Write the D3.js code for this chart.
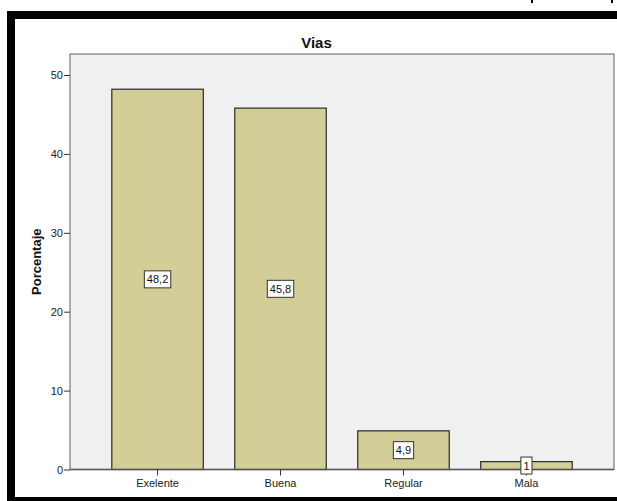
<!DOCTYPE html>
<html>
<head>
<meta charset="utf-8">
<script src="https://cdn.jsdelivr.net/npm/d3@7"></script>
<style>
  html, body { margin: 0; padding: 0; background: #fff; }
  svg { display: block; font-family: "Liberation Sans", Arial, sans-serif; }
</style>
</head>
<body>
<svg id="chart" width="617" height="501"></svg>
<script>
const title = "Vias";
const yLabel = "Porcentaje";
const categories = ["Exelente", "Buena", "Regular", "Mala"];
const values = [48.2, 45.8, 4.9, 1];
const valueLabels = ["48,2", "45,8", "4,9", "1"];
const yTicks = [0, 10, 20, 30, 40, 50];

const svg = d3.select("#chart");

// outer black frame (cropped)
svg.append("rect")
  .attr("x", 11).attr("y", 15).attr("width", 700).attr("height", 486)
  .attr("fill", "#fff").attr("stroke", "#000").attr("stroke-width", 8);

// small fragments above frame
svg.append("rect").attr("x", 531).attr("y", 0).attr("width", 2).attr("height", 3).attr("fill", "#000");
svg.append("rect").attr("x", 611).attr("y", 0).attr("width", 2).attr("height", 3).attr("fill", "#000");

const plot = { left: 70, right: 614, top: 54, bottom: 469.5 };

const x = d3.scaleBand()
  .domain(categories)
  .range([plot.left, plot.right])
  .paddingInner(0.256)
  .paddingOuter(0.34);

const y = d3.scaleLinear()
  .domain([0, 50])
  .range([plot.bottom, 75]);

// plot background
svg.append("rect")
  .attr("x", plot.left).attr("y", plot.top)
  .attr("width", plot.right - plot.left).attr("height", plot.bottom - plot.top)
  .attr("fill", "#f0f0f0").attr("stroke", "#7a7a7a").attr("stroke-width", 1.2);

// bars
svg.append("g").selectAll("rect")
  .data(values)
  .join("rect")
  .attr("x", (d, i) => x(categories[i]))
  .attr("y", d => y(d))
  .attr("width", x.bandwidth())
  .attr("height", d => y(0) - y(d))
  .attr("fill", "#d3ce97")
  .attr("stroke", "#2a2a2a")
  .attr("stroke-width", 1.2);

// baseline
svg.append("line")
  .attr("x1", plot.left).attr("x2", plot.right)
  .attr("y1", y(0)).attr("y2", y(0))
  .attr("stroke", "#555").attr("stroke-width", 1.4);

// y axis
const yAxis = svg.append("g")
  .attr("transform", `translate(${plot.left},0)`)
  .call(d3.axisLeft(y).tickValues(yTicks).tickSize(6).tickPadding(1).tickFormat(d3.format("d")));
yAxis.select(".domain").remove();
yAxis.selectAll(".tick line").attr("stroke", "#333");
yAxis.selectAll(".tick text")
  .attr("fill", "#222").style("font-size", "11px")
  .style("font-family", "'Liberation Sans', Arial, sans-serif");

// x axis
const xAxis = svg.append("g")
  .attr("transform", `translate(0,${y(0)})`)
  .call(d3.axisBottom(x).tickSize(6).tickPadding(4));
xAxis.select(".domain").remove();
xAxis.selectAll(".tick line").attr("stroke", "#333");
xAxis.selectAll(".tick text")
  .attr("fill", "#222").style("font-size", "11px")
  .style("font-family", "'Liberation Sans', Arial, sans-serif");

// value labels
const lab = svg.append("g").selectAll("g")
  .data(values)
  .join("g")
  .attr("transform", (d, i) => `translate(${x(categories[i]) + x.bandwidth() / 2},${(y(0) + y(d)) / 2})`);
lab.append("rect").attr("class", "box");
lab.append("text")
  .text((d, i) => valueLabels[i])
  .attr("text-anchor", "middle")
  .attr("dy", "0.36em")
  .attr("fill", "#111")
  .style("font-size", "11px");
lab.each(function() {
  const g = d3.select(this);
  const bb = g.select("text").node().getBBox();
  g.select("rect")
    .attr("x", bb.x - 2.5).attr("y", -8.5)
    .attr("width", bb.width + 5).attr("height", 17)
    .attr("fill", "#fff").attr("stroke", "#333").attr("stroke-width", 1);
});

// title
svg.append("text")
  .attr("x", 316.5).attr("y", 48)
  .attr("text-anchor", "middle")
  .attr("fill", "#111")
  .style("font-size", "15px").style("font-weight", "bold")
  .text(title);

// y label
svg.append("text")
  .attr("transform", `translate(41,${(plot.top + plot.bottom) / 2}) rotate(-90)`)
  .attr("text-anchor", "middle")
  .attr("fill", "#111")
  .style("font-size", "13px").style("font-weight", "bold")
  .text(yLabel);
</script>
</body>
</html>
